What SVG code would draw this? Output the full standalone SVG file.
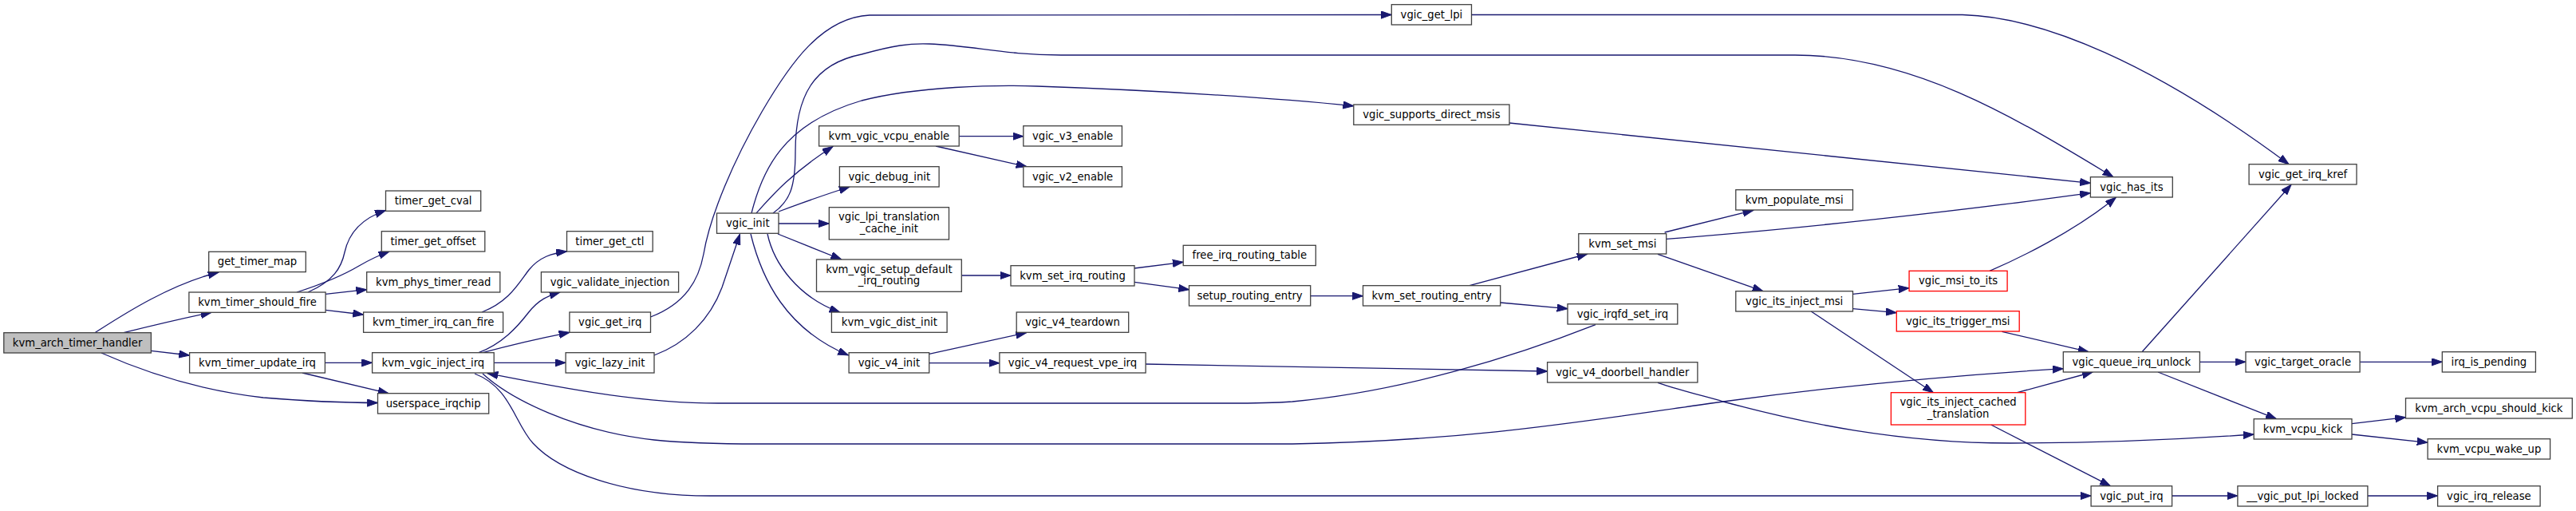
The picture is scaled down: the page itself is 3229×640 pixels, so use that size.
<svg xmlns="http://www.w3.org/2000/svg" width="3229" height="640" viewBox="0 0 3229 640">
<style>
.n rect{fill:#fff;stroke:#404040;stroke-width:1.3}
.root rect{fill:#bfbfbf}
.red rect{stroke:#ff0000}
text{font-family:"DejaVu Sans",sans-serif;font-size:13.2px;text-anchor:middle;fill:#000}
#edges path{fill:none;stroke:#191970;stroke-width:1.3;marker-end:url(#ah)}
</style>
<defs>
<marker id="ah" markerUnits="userSpaceOnUse" markerWidth="14" markerHeight="10" refX="13.3" refY="4.65" orient="auto">
<path d="M0,0 L13.3,4.65 L0,9.3 z" fill="#191970" stroke="#191970" stroke-width="1"/>
</marker>
</defs>
<rect width="3229" height="640" fill="#fff"/>
<g id="edges">
<path d="M119,416.7 C150,397 210,357 274,341"/>
<path d="M155,416.7 C190,408 228,399 265,391.3"/>
<path d="M189.4,439.3 L237.6,445"/>
<path d="M127,442 C190,470 260,490 330,498 C390,503 440,504.5 473.5,504.5"/>
<path d="M386,366 C418,352 428,335 432,316 C437,293 452,274 483.5,263.5"/>
<path d="M372,366 C400,357 428,346 450,333 C462,326 474,320 488,315"/>
<path d="M408.1,368.3 L459.7,362.7"/>
<path d="M408.1,388.3 L455.6,394"/>
<path d="M604,391 C638,378 650,355 663,338 C676,322 692,317 710.5,315"/>
<path d="M407.4,454.3 L466.6,454.3"/>
<path d="M379,467 L487,492.7"/>
<path d="M600,441.7 C630,430 648,410 662,392 C675,375 688,370 702,366"/>
<path d="M605,441.7 C640,432 680,423 714,416.3"/>
<path d="M619.2,454.3 L709.1,454.3"/>
<path d="M815.5,397 C860,380 876,350 882,318 C890,270 920,200 955,140 C990,80 1030,22 1090,19 L1744.3,18.5"/>
<path d="M1844.5,18.5 L2460,18.5 C2560,21 2700,80 2869,205.7"/>
<path d="M969,267 C990,252 997,235 997,190 C997,120 1020,80 1080,68 C1120,57 1140,54 1165,55 C1220,57 1260,69 1330,69 L2250,69 C2400,69 2530,150 2649,221.7"/>
<path d="M942,267 C955,215 980,155 1080,126 C1150,108 1250,106 1300,108 C1450,113 1600,123 1696.8,132.7"/>
<path d="M948,267 C965,248 990,218 1044,183.5"/>
<path d="M976,265 C1000,256 1030,245 1065,234"/>
<path d="M976,280 L1039.3,280"/>
<path d="M975,293 L1054.8,325"/>
<path d="M962,293 C970,330 1000,372 1053,391.3"/>
<path d="M941,293 C955,350 985,412 1063.5,445"/>
<path d="M820,445 C860,430 890,400 905,360 C915,330 922,310 927.5,293.3"/>
<path d="M1202.2,170.7 L1282.8,170.7"/>
<path d="M1173,183 L1287,208.7"/>
<path d="M1205.3,345 L1267,345"/>
<path d="M1422,336 L1483.2,328.3"/>
<path d="M1422,353.3 L1490.5,362.7"/>
<path d="M1642.7,370.7 L1708.5,370.7"/>
<path d="M1842,357.7 L1990,318"/>
<path d="M1880.7,379 L1965,386.7"/>
<path d="M2000,406.7 C1900,446 1760,490 1620,503 C1590,505 1570,505 1540,505 L900,505 C800,505 700,485 611,467.5"/>
<path d="M605,468 C640,500 720,540 820,551 C860,555 900,556 950,556 L1620,556 C1850,552 2000,525 2160,503 C2300,484 2450,470 2586.3,461.7"/>
<path d="M595,468 C640,485 645,530 668,555 C700,590 780,621 890,621 L2621.1,621"/>
<path d="M1164.7,443.3 L1286.6,416.7"/>
<path d="M1164.7,454.7 L1252.9,454.7"/>
<path d="M1436.1,456 L1939.6,465"/>
<path d="M2078,479.3 C2110,490 2140,497 2160,503 C2260,530 2380,555 2520,555 C2640,555 2740,550 2825.2,544"/>
<path d="M2086.6,291 L2197.9,263.3"/>
<path d="M2088.7,299.3 C2250,287 2450,265 2620.4,241.7"/>
<path d="M2078,318.3 L2210,364.7"/>
<path d="M1892,154 L2620.4,229.3"/>
<path d="M2494,339.3 C2530,324 2600,290 2652.4,247.3"/>
<path d="M2322.5,368.3 L2393.1,360.7"/>
<path d="M2322.5,386.7 L2377.3,391.7"/>
<path d="M2270.2,390 L2423.4,491.7"/>
<path d="M2509.5,415.3 L2618,440.7"/>
<path d="M2528.5,491.7 L2623.2,466"/>
<path d="M2495.7,532 L2645.5,608.7"/>
<path d="M2685,440.7 L2872,231.3"/>
<path d="M2757.4,453.3 L2815,453.3"/>
<path d="M2705,466 L2853.5,524.7"/>
<path d="M2958.1,453.3 L3061.3,453.3"/>
<path d="M2948,530.7 L3015.5,522.7"/>
<path d="M2948,544 L3043.1,554.3"/>
<path d="M2722.6,621 L2804.9,621"/>
<path d="M2967.9,621 L3055.6,621"/>
</g>
<g id="kvm_arch_timer_handler" class="n root"><rect x="4.8" y="416.7" width="184.6" height="25.3"/><text x="97.1" y="433.5">kvm_arch_timer_handler</text></g>
<g id="get_timer_map" class="n"><rect x="261.7" y="315.3" width="121.6" height="25.3"/><text x="322.5" y="332.1">get_timer_map</text></g>
<g id="kvm_timer_should_fire" class="n"><rect x="236.9" y="366" width="171.2" height="25.3"/><text x="322.5" y="382.8">kvm_timer_should_fire</text></g>
<g id="kvm_timer_update_irq" class="n"><rect x="237.6" y="441.7" width="169.8" height="25.3"/><text x="322.5" y="458.5">kvm_timer_update_irq</text></g>
<g id="kvm_phys_timer_read" class="n"><rect x="459.7" y="340.7" width="167.1" height="25.3"/><text x="543.2" y="357.5">kvm_phys_timer_read</text></g>
<g id="kvm_timer_irq_can_fire" class="n"><rect x="455.6" y="391" width="175" height="25.3"/><text x="543.1" y="407.8">kvm_timer_irq_can_fire</text></g>
<g id="kvm_vgic_inject_irq" class="n"><rect x="466.6" y="441.7" width="152.6" height="25.3"/><text x="542.9" y="458.5">kvm_vgic_inject_irq</text></g>
<g id="userspace_irqchip" class="n"><rect x="473.5" y="492.7" width="139.2" height="25.3"/><text x="543.1" y="509.5">userspace_irqchip</text></g>
<g id="timer_get_cval" class="n"><rect x="483.5" y="239" width="119.2" height="25.3"/><text x="543.1" y="255.8">timer_get_cval</text></g>
<g id="timer_get_offset" class="n"><rect x="478.3" y="289.7" width="129.5" height="25.3"/><text x="543.1" y="306.5">timer_get_offset</text></g>
<g id="timer_get_ctl" class="n"><rect x="710.5" y="289.7" width="107.7" height="25.3"/><text x="764.4" y="306.5">timer_get_ctl</text></g>
<g id="vgic_init" class="n"><rect x="898.5" y="267" width="77.5" height="25.3"/><text x="937.3" y="283.8">vgic_init</text></g>
<g id="kvm_vgic_vcpu_enable" class="n"><rect x="1026.6" y="157.7" width="175.6" height="25.3"/><text x="1114.4" y="174.5">kvm_vgic_vcpu_enable</text></g>
<g id="vgic_debug_init" class="n"><rect x="1052.4" y="208.7" width="124.7" height="25.3"/><text x="1114.8" y="225.5">vgic_debug_init</text></g>
<g id="vgic_lpi_translation_cache_init" class="n"><rect x="1039.3" y="259.7" width="150.2" height="40.3"/><text x="1114.4" y="276.2">vgic_lpi_translation</text><text x="1114.4" y="291">_cache_init</text></g>
<g id="kvm_vgic_setup_default_irq_routing" class="n"><rect x="1023.5" y="325" width="181.8" height="40.3"/><text x="1114.4" y="341.5">kvm_vgic_setup_default</text><text x="1114.4" y="356.3">_irq_routing</text></g>
<g id="kvm_vgic_dist_init" class="n"><rect x="1042.4" y="391" width="144.7" height="25.3"/><text x="1114.8" y="407.8">kvm_vgic_dist_init</text></g>
<g id="vgic_v4_init" class="n"><rect x="1064.1" y="441.7" width="100.6" height="25.3"/><text x="1114.4" y="458.5">vgic_v4_init</text></g>
<g id="vgic_validate_injection" class="n"><rect x="678.4" y="340.7" width="172.2" height="25.3"/><text x="764.5" y="357.5">vgic_validate_injection</text></g>
<g id="vgic_get_irq" class="n"><rect x="713.9" y="391" width="101.6" height="25.3"/><text x="764.7" y="407.8">vgic_get_irq</text></g>
<g id="vgic_lazy_init" class="n"><rect x="709.1" y="441.7" width="110.9" height="25.3"/><text x="764.6" y="458.5">vgic_lazy_init</text></g>
<g id="vgic_v3_enable" class="n"><rect x="1282.8" y="157.7" width="123.6" height="25.3"/><text x="1344.6" y="174.5">vgic_v3_enable</text></g>
<g id="vgic_v2_enable" class="n"><rect x="1282.8" y="208.7" width="123.6" height="25.3"/><text x="1344.6" y="225.5">vgic_v2_enable</text></g>
<g id="free_irq_routing_table" class="n"><rect x="1483.2" y="307.3" width="166.1" height="25.3"/><text x="1566.3" y="324.1">free_irq_routing_table</text></g>
<g id="kvm_set_irq_routing" class="n"><rect x="1267" y="332.7" width="155" height="25.3"/><text x="1344.5" y="349.5">kvm_set_irq_routing</text></g>
<g id="setup_routing_entry" class="n"><rect x="1490.5" y="357.7" width="152.2" height="25.3"/><text x="1566.6" y="374.5">setup_routing_entry</text></g>
<g id="vgic_v4_teardown" class="n"><rect x="1274.2" y="391" width="140.5" height="25.3"/><text x="1344.5" y="407.8">vgic_v4_teardown</text></g>
<g id="vgic_v4_request_vpe_irq" class="n"><rect x="1252.9" y="441.7" width="183.2" height="25.3"/><text x="1344.5" y="458.5">vgic_v4_request_vpe_irq</text></g>
<g id="vgic_get_lpi" class="n"><rect x="1744.3" y="5.7" width="100.2" height="25.3"/><text x="1794.4" y="22.5">vgic_get_lpi</text></g>
<g id="vgic_supports_direct_msis" class="n"><rect x="1696.8" y="131" width="195.2" height="25.3"/><text x="1794.4" y="147.8">vgic_supports_direct_msis</text></g>
<g id="kvm_set_msi" class="n"><rect x="1978.8" y="292.7" width="109.9" height="25.3"/><text x="2033.8" y="309.5">kvm_set_msi</text></g>
<g id="kvm_set_routing_entry" class="n"><rect x="1708.5" y="357.7" width="172.2" height="25.3"/><text x="1794.6" y="374.5">kvm_set_routing_entry</text></g>
<g id="vgic_irqfd_set_irq" class="n"><rect x="1965" y="380.7" width="137.8" height="25.3"/><text x="2033.9" y="397.5">vgic_irqfd_set_irq</text></g>
<g id="vgic_v4_doorbell_handler" class="n"><rect x="1939.6" y="453.7" width="188.3" height="25.3"/><text x="2033.8" y="470.5">vgic_v4_doorbell_handler</text></g>
<g id="kvm_populate_msi" class="n"><rect x="2175.8" y="237.7" width="146.7" height="25.3"/><text x="2249.2" y="254.5">kvm_populate_msi</text></g>
<g id="vgic_has_its" class="n"><rect x="2620.4" y="221.7" width="102.9" height="25.3"/><text x="2671.9" y="238.5">vgic_has_its</text></g>
<g id="vgic_its_inject_msi" class="n"><rect x="2175.8" y="364.7" width="146.7" height="25.3"/><text x="2249.2" y="381.5">vgic_its_inject_msi</text></g>
<g id="vgic_msi_to_its" class="n red"><rect x="2393.1" y="339.3" width="123" height="25.3"/><text x="2454.6" y="356.1">vgic_msi_to_its</text></g>
<g id="vgic_its_trigger_msi" class="n red"><rect x="2377.3" y="389.7" width="153.9" height="25.3"/><text x="2454.3" y="406.5">vgic_its_trigger_msi</text></g>
<g id="vgic_queue_irq_unlock" class="n"><rect x="2586.3" y="440.7" width="171.1" height="25.3"/><text x="2671.9" y="457.5">vgic_queue_irq_unlock</text></g>
<g id="vgic_its_inject_cached_translation" class="n red"><rect x="2370.4" y="491.7" width="168.4" height="40.3"/><text x="2454.6" y="508.2">vgic_its_inject_cached</text><text x="2454.6" y="523">_translation</text></g>
<g id="vgic_put_irq" class="n"><rect x="2621.1" y="608.7" width="101.5" height="25.3"/><text x="2671.9" y="625.5">vgic_put_irq</text></g>
<g id="vgic_get_irq_kref" class="n"><rect x="2819.1" y="205.7" width="134.9" height="25.3"/><text x="2886.6" y="222.5">vgic_get_irq_kref</text></g>
<g id="vgic_target_oracle" class="n"><rect x="2815" y="440.7" width="143.1" height="25.3"/><text x="2886.6" y="457.5">vgic_target_oracle</text></g>
<g id="irq_is_pending" class="n"><rect x="3061.3" y="440.7" width="117.1" height="25.3"/><text x="3119.9" y="457.5">irq_is_pending</text></g>
<g id="kvm_arch_vcpu_should_kick" class="n"><rect x="3015.5" y="498.7" width="208.8" height="25.3"/><text x="3119.9" y="515.5">kvm_arch_vcpu_should_kick</text></g>
<g id="kvm_vcpu_kick" class="n"><rect x="2825.2" y="524.7" width="122.8" height="25.3"/><text x="2886.6" y="541.5">kvm_vcpu_kick</text></g>
<g id="kvm_vcpu_wake_up" class="n"><rect x="3043.1" y="549.7" width="153.5" height="25.3"/><text x="3119.9" y="566.5">kvm_vcpu_wake_up</text></g>
<g id="__vgic_put_lpi_locked" class="n"><rect x="2804.9" y="608.7" width="163" height="25.3"/><text x="2886.4" y="625.5">__vgic_put_lpi_locked</text></g>
<g id="vgic_irq_release" class="n"><rect x="3055.6" y="608.7" width="128.5" height="25.3"/><text x="3119.9" y="625.5">vgic_irq_release</text></g>
</svg>
